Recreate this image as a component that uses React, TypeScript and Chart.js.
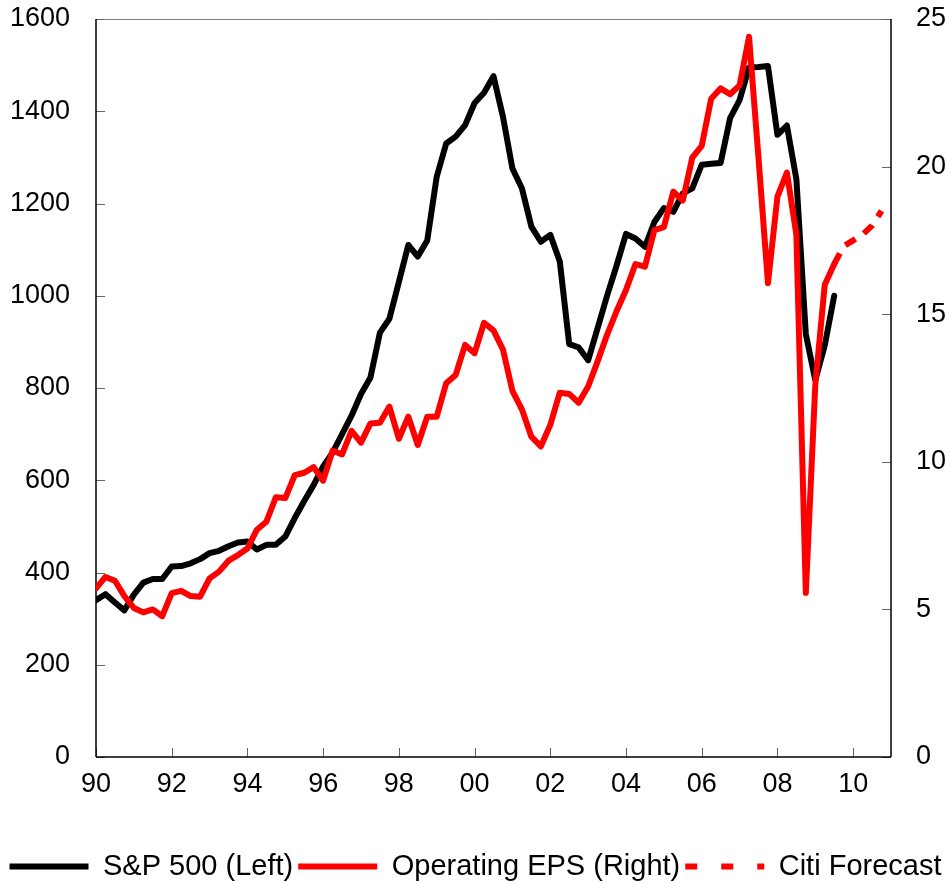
import React, { useEffect, useRef } from "react";
import { Chart, registerables } from "chart.js";

Chart.register(...registerables);

// Quarterly data, first quarter of 1990 onwards
const firstYear = 1990;
const lastYear = 2011;

const sp500: number[] = [
  340, 353, 335, 318, 352, 378, 386, 386, 413, 414,
  420, 429, 442, 447, 457, 465, 467, 450, 460, 460,
  478, 518, 555, 590, 630, 660, 700, 740, 787, 823,
  920, 950, 1030, 1110, 1085, 1120, 1258, 1330, 1345, 1370,
  1418, 1440, 1476, 1388, 1276, 1233, 1150, 1117, 1132, 1075,
  895, 888, 860, 930, 1000, 1065, 1134, 1124, 1106, 1160,
  1190, 1182, 1222, 1233, 1284, 1286, 1288, 1385, 1424, 1495,
  1496, 1498, 1349, 1369, 1253, 917, 817, 892, 1000,
];

const operatingEps: number[] = [
  5.71, 6.1, 5.97, 5.45, 5.05, 4.9, 5.0, 4.77, 5.55, 5.63,
  5.45, 5.43, 6.05, 6.28, 6.65, 6.84, 7.06, 7.7, 7.97, 8.8,
  8.77, 9.55, 9.63, 9.82, 9.36, 10.38, 10.25, 11.05, 10.65, 11.3,
  11.32, 11.87, 10.78, 11.53, 10.57, 11.53, 11.53, 12.66, 12.94, 13.96,
  13.68, 14.71, 14.45, 13.8, 12.4, 11.78, 10.85, 10.52, 11.25, 12.34,
  12.3, 12.0, 12.55, 13.4, 14.3, 15.1, 15.82, 16.7, 16.61, 17.85,
  17.95, 19.15, 18.85, 20.3, 20.7, 22.3, 22.65, 22.45, 22.75, 24.4,
  20.3, 16.05, 18.98, 19.8, 17.7, 5.56, 12.6, 16.0, 16.7,
];

// Citi forecast starts at the last actual EPS quarter (index 78)
const forecastStartQuarter = 78;
const citiForecast: number[] = [16.7, 17.3, 17.5, 17.7, 18.0, 18.5];

const leftTicks = { min: 0, max: 1600, step: 200 };
const rightTicks = { min: 0, max: 25, step: 5 };
const yearStep = 2;

const seriesLabels = ["S&P 500 (Left)", "Operating EPS (Right)", "Citi Forecast"];

const quarterX = (i: number) => firstYear + i / 4;

const frame = {
  id: "frame",
  beforeDatasetsDraw(chart: any) {
    const { ctx, chartArea, scales } = chart;
    const { left, right, top, bottom } = chartArea;
    const seg = (x1: number, y1: number, x2: number, y2: number) => {
      ctx.beginPath();
      ctx.moveTo(x1, y1);
      ctx.lineTo(x2, y2);
      ctx.stroke();
    };
    ctx.save();
    ctx.strokeStyle = "#808080";
    ctx.lineWidth = 1;
    seg(left, top + 0.5, right, top + 0.5);
    ctx.strokeStyle = "#666";
    ctx.lineWidth = 1;
    const tl = 9;
    scales.x.ticks.forEach((t: any) => {
      const px = Math.round(scales.x.getPixelForValue(t.value)) + 0.5;
      seg(px, bottom, px, bottom - tl);
    });
    scales.y.ticks.forEach((t: any) => {
      const py = Math.round(scales.y.getPixelForValue(t.value)) + 0.5;
      seg(left, py, left + tl, py);
    });
    scales.y1.ticks.forEach((t: any) => {
      const py = Math.round(scales.y1.getPixelForValue(t.value)) + 0.5;
      seg(right - tl, py, right, py);
    });
    ctx.strokeStyle = "#000";
    ctx.lineWidth = 1.5;
    seg(left, top, left, bottom);
    seg(right, top, right, bottom);
    seg(left, bottom, right, bottom);
    ctx.restore();
  },
};

export default function App() {
  const ref = useRef<HTMLCanvasElement | null>(null);

  useEffect(() => {
    if (!ref.current) return;
    Chart.defaults.font.family = "'Liberation Sans', Arial, sans-serif";
    Chart.defaults.color = "#000";

    const spData = sp500.map((v, i) => ({ x: quarterX(i), y: v }));
    const epsData = operatingEps.map((v, i) => ({ x: quarterX(i), y: v }));
    const fcData = citiForecast.map((v, i) => ({ x: quarterX(forecastStartQuarter + i), y: v }));

    const chart = new Chart(ref.current, {
      type: "line",
      data: {
        datasets: [
          {
            label: seriesLabels[0],
            data: spData,
            yAxisID: "y",
            borderColor: "#000000",
            backgroundColor: "#000000",
            borderWidth: 6,
            pointRadius: 0,
            tension: 0,
            borderJoinStyle: "round",
            borderCapStyle: "round",
            order: 3,
          },
          {
            label: seriesLabels[1],
            data: epsData,
            yAxisID: "y1",
            borderColor: "#ff0000",
            backgroundColor: "#ff0000",
            borderWidth: 6,
            pointRadius: 0,
            tension: 0,
            borderJoinStyle: "round",
            borderCapStyle: "round",
            order: 1,
          },
          {
            label: seriesLabels[2],
            data: fcData,
            yAxisID: "y1",
            borderColor: "#ff0000",
            backgroundColor: "#ff0000",
            borderWidth: 6,
            borderDash: [12, 10],
            pointRadius: 0,
            tension: 0,
            borderCapStyle: "butt",
            order: 2,
          },
        ],
      },
      options: {
        responsive: false,
        animation: false,
        layout: { padding: { top: 19, left: 0, right: 0, bottom: 0 } },
        plugins: {
          tooltip: { enabled: false },
          legend: {
            position: "bottom",
            maxHeight: 36,
            labels: {
              usePointStyle: true,
              pointStyle: "line",
              pointStyleWidth: 79,
              padding: 5,
              color: "#000",
              font: { size: 29 },
              generateLabels(c: any) {
                const items = Chart.defaults.plugins.legend.labels.generateLabels(c);
                items.forEach((it: any) => {
                  it.pointStyle = "line";
                  if (it.datasetIndex === 2) it.lineDash = [12, 24];
                });
                items.sort((a: any, b: any) => a.datasetIndex - b.datasetIndex);
                return items;
              },
            },
          },
        },
        scales: {
          x: {
            type: "linear",
            min: firstYear,
            max: lastYear,
            grid: { display: false },
            border: { display: false },
            afterFit(s: any) {
              s.height = 90;
            },
            ticks: {
              stepSize: yearStep,
              includeBounds: false,
              autoSkip: false,
              maxRotation: 0,
              padding: 3,
              font: { size: 27 },
              color: "#000",
              callback: (v: any) => String(Math.round(Number(v)) % 100).padStart(2, "0"),
            },
          },
          y: {
            position: "left",
            min: leftTicks.min,
            max: leftTicks.max,
            grid: { display: false },
            border: { display: false },
            afterFit(s: any) {
              s.width = 96;
              s.paddingTop = 0;
              s.paddingBottom = 0;
            },
            ticks: {
              stepSize: leftTicks.step,
              padding: 18,
              font: { size: 27 },
              color: "#000",
              callback: (v: any) => String(v),
            },
          },
          y1: {
            position: "right",
            min: rightTicks.min,
            max: rightTicks.max,
            grid: { display: false },
            border: { display: false },
            afterFit(s: any) {
              s.width = 60;
              s.paddingTop = 0;
              s.paddingBottom = 0;
            },
            ticks: {
              stepSize: rightTicks.step,
              padding: 17,
              font: { size: 27 },
              color: "#000",
              callback: (v: any) => String(v),
            },
          },
        },
      },
      plugins: [frame],
    });
    return () => chart.destroy();
  }, []);

  return (
    <div style={{ position: "absolute", left: 0, top: 0, width: 951, height: 883 }}>
      <canvas ref={ref} width={951} height={883} />
    </div>
  );
}
